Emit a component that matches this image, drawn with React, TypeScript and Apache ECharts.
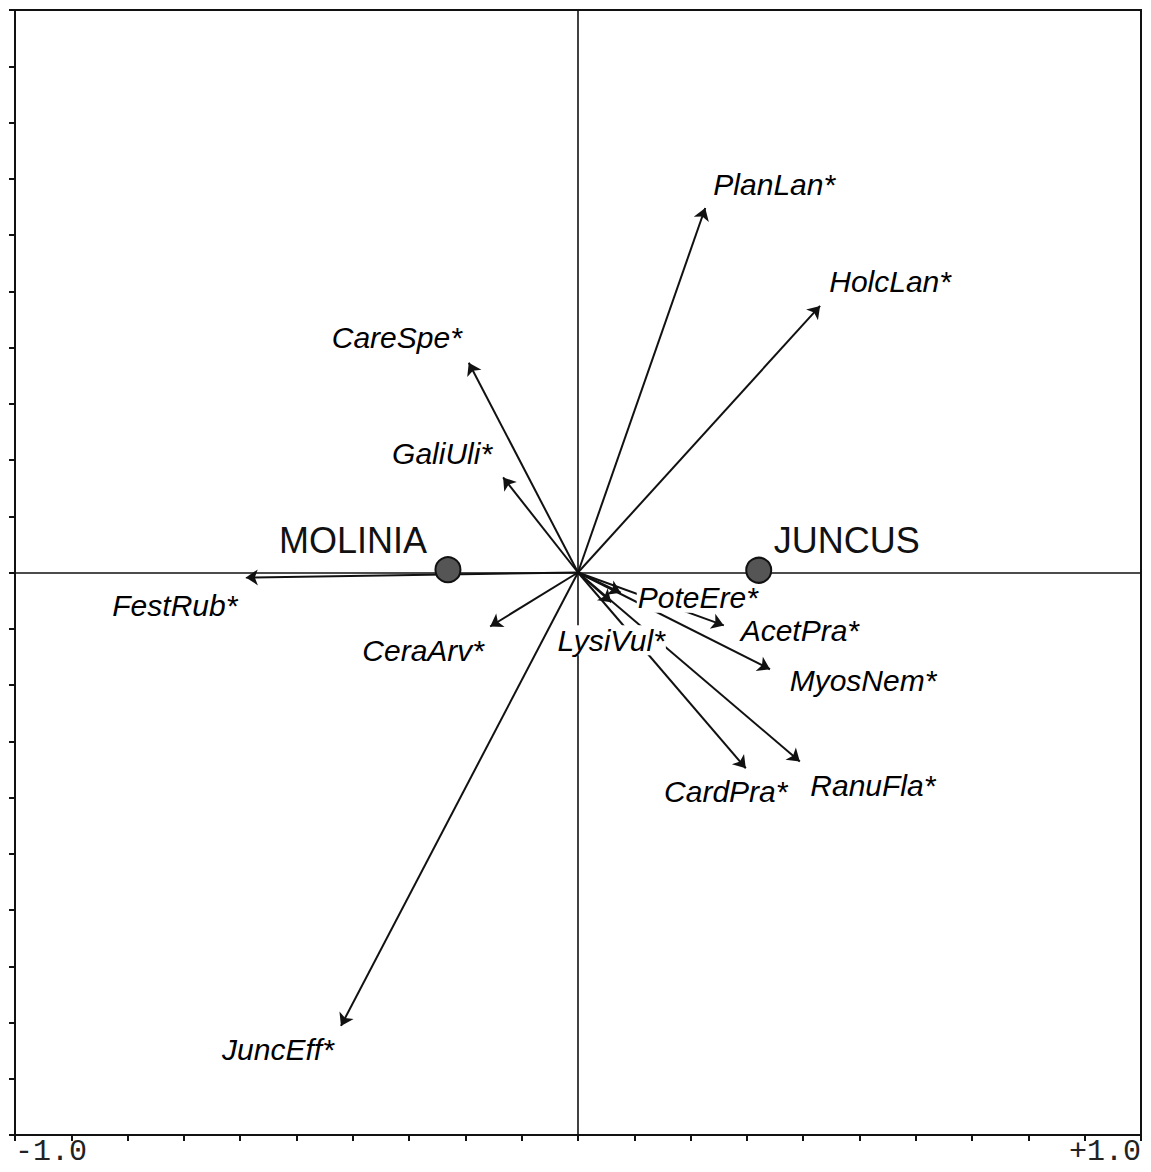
import React, { useEffect, useRef } from "react";
import * as echarts from "echarts";

// Species (arrow tips)
const speciesNames = [
  "PlanLan*", "HolcLan*", "CareSpe*", "GaliUli*", "FestRub*", "CeraArv*", "JuncEff*",
  "PoteEre*", "LysiVul*", "AcetPra*", "MyosNem*", "CardPra*", "RanuFla*",
];
const speciesX = [0.226, 0.43, -0.194, -0.133, -0.59, -0.156, -0.421, 0.076, 0.059, 0.259, 0.341, 0.298, 0.394];
const speciesY = [0.648, 0.474, 0.373, 0.169, -0.009, -0.096, -0.806, -0.036, -0.053, -0.094, -0.172, -0.348, -0.336];

// Group centroids
const groupNames = ["MOLINIA", "JUNCUS"];
const groupX = [-0.231, 0.321];
const groupY = [0.005, 0.004];

// Axis tick labels (only the ends are labelled)
const xTickLabels = ["-1.0", "+1.0"];

// Layout: label offsets (px) relative to the point
const speciesLabelOffsets: [number, number][] = [
  [69, -24], [70, -24], [-72, -25], [-61, -24], [-71, 28], [-67, 24], [-63, 24],
  [77, 5], [0, 38], [76, 5], [93, 11], [-20, 23], [73, 24],
];
const groupLabelOffsets: [number, number][] = [[-95, -29], [88, -30]];

const INK = "#111";

export default function App() {
  const ref = useRef<HTMLDivElement>(null);
  useEffect(() => {
    if (!ref.current) return;
    const chart = echarts.init(ref.current, null, { renderer: "svg" });
    const axisCommon = {
      type: "value" as const,
      min: -1,
      max: 1,
      interval: 0.1,
      splitLine: { show: false },
      axisLine: { show: true, onZero: false, lineStyle: { color: INK, width: 2 } },
      axisTick: { show: true, inside: false, length: 6, lineStyle: { color: INK, width: 2 } },
    };
    chart.setOption({
      animation: false,
      backgroundColor: "#fff",
      grid: {
        left: 15, top: 10, width: 1126, height: 1125,
        outerBoundsMode: "none",
        containLabel: false,
        show: true, borderColor: INK, borderWidth: 2, backgroundColor: "transparent",
      },
      xAxis: {
        ...axisCommon,
        position: "bottom",
        axisLabel: {
          show: true,
          showMinLabel: true,
          showMaxLabel: true,
          alignMinLabel: "left",
          alignMaxLabel: "right",
          margin: 2,
          fontFamily: "Liberation Mono",
          fontSize: 30,
          lineHeight: 30,
          color: "#222",
          formatter: (v: number) =>
            Math.abs(v + 1) < 1e-9 ? xTickLabels[0] : Math.abs(v - 1) < 1e-9 ? xTickLabels[1] : "",
        },
      },
      yAxis: {
        ...axisCommon,
        position: "left",
        axisLabel: { show: false },
      },
      series: [
        {
          type: "lines",
          coordinateSystem: "cartesian2d",
          z: 3,
          symbol: ["none", "arrow"],
          symbolSize: 12,
          lineStyle: { color: INK, width: 2, opacity: 1 },
          data: speciesNames.map((n, i) => ({
            name: n,
            coords: [[0, 0], [speciesX[i], speciesY[i]]],
          })),
          markLine: {
            silent: true,
            symbol: "none",
            label: { show: false },
            lineStyle: { color: INK, width: 1.6, type: "solid" },
            data: [{ xAxis: 0 }, { yAxis: 0 }],
          },
        },
        {
          type: "scatter",
          z: 5,
          symbolSize: 0.1,
          itemStyle: { color: "#fff", opacity: 0 },
          label: {
            show: true,
            position: "inside",
            align: "center",
            verticalAlign: "middle",
            fontFamily: "Liberation Sans",
            fontStyle: "italic",
            fontSize: 30,
            color: "#000",
            opacity: 1,
            backgroundColor: "#fff",
            padding: [0, 1],
            formatter: (p: any) => p.name,
          },
          data: speciesNames.map((n, i) => ({
            name: n,
            value: [speciesX[i], speciesY[i]],
            label: { offset: speciesLabelOffsets[i] },
          })),
        },
        {
          type: "scatter",
          z: 6,
          symbol: "circle",
          symbolSize: 25,
          itemStyle: { color: "#555", borderColor: INK, borderWidth: 2, opacity: 1 },
          label: {
            show: true,
            position: "inside",
            align: "center",
            verticalAlign: "middle",
            fontFamily: "Liberation Sans",
            fontSize: 36,
            color: "#111",
            formatter: (p: any) => p.name,
          },
          data: groupNames.map((n, i) => ({
            name: n,
            value: [groupX[i], groupY[i]],
            label: { offset: groupLabelOffsets[i] },
          })),
        },
      ],
    });
    return () => chart.dispose();
  }, []);
  return (
    <div
      ref={ref}
      style={{ position: "absolute", left: 0, top: 0, width: 1151, height: 1172 }}
    />
  );
}
